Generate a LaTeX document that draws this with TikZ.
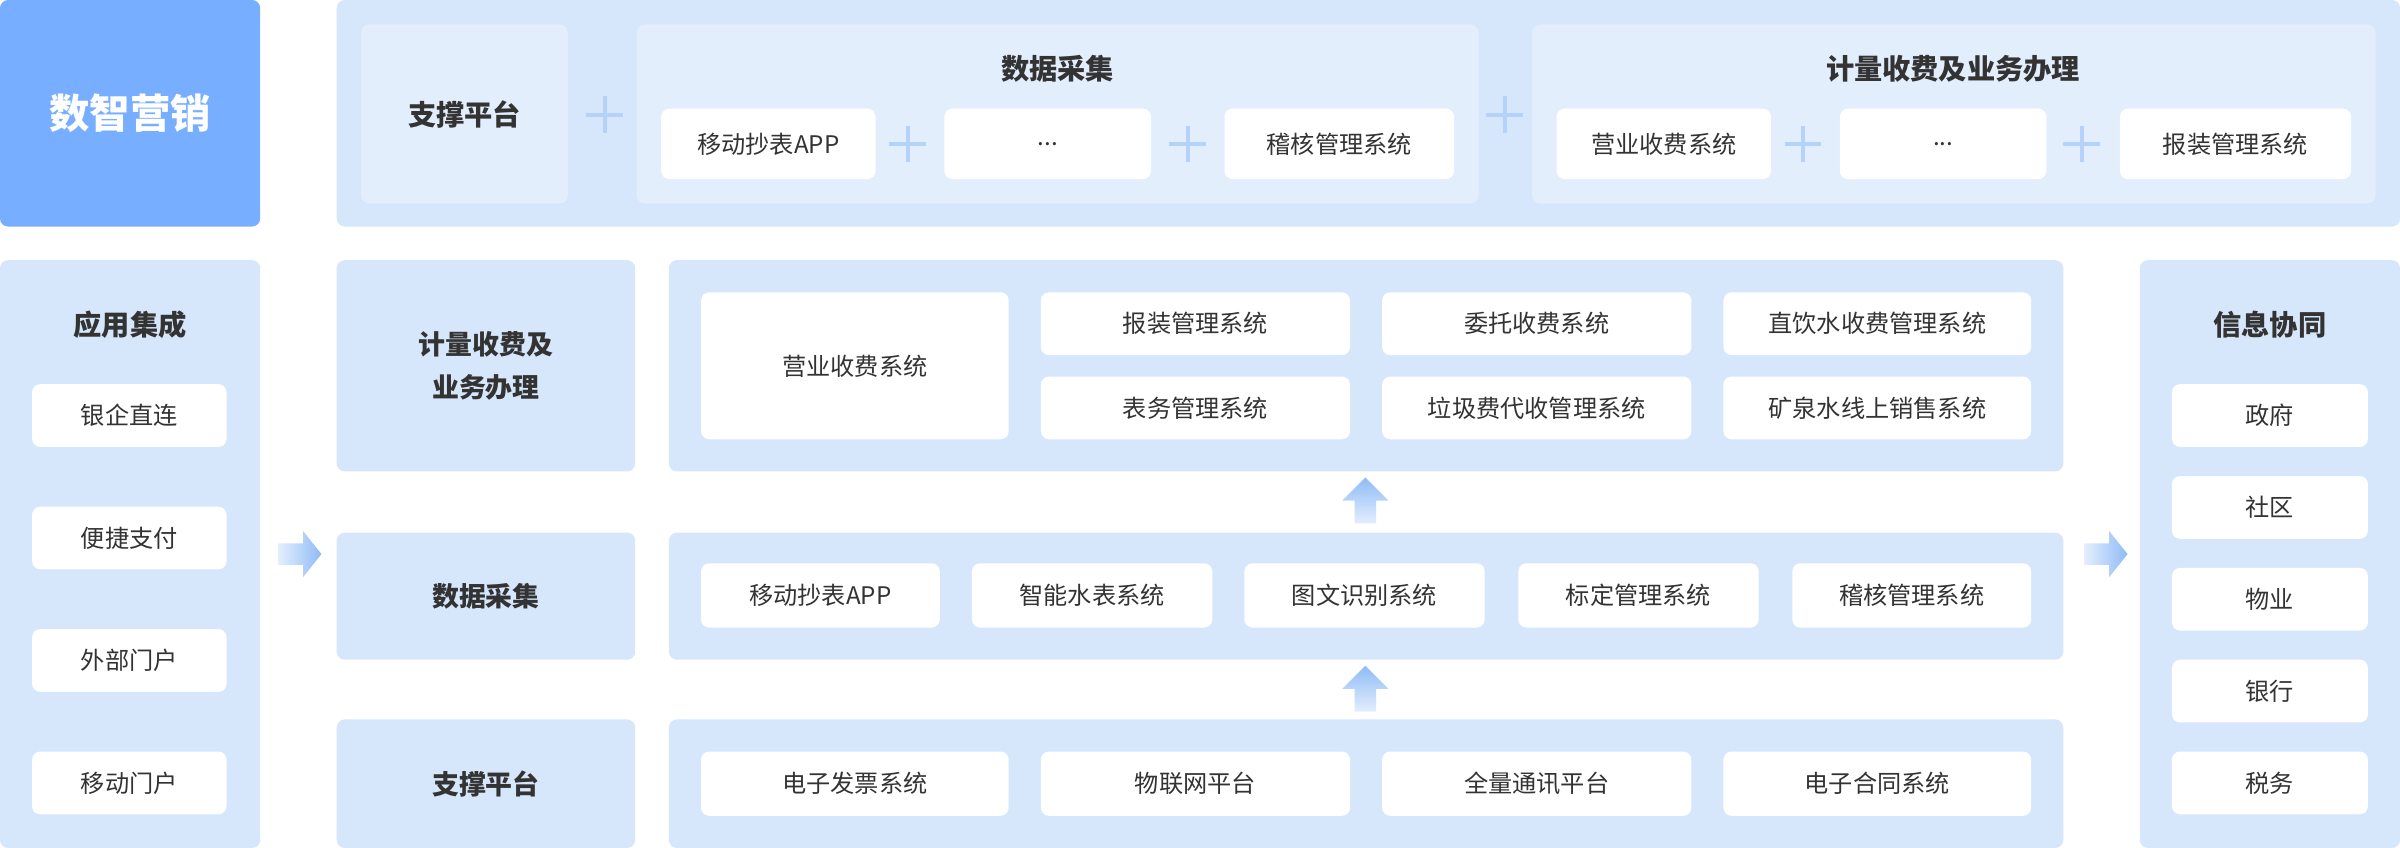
\documentclass[tikz,border=0pt]{standalone}
\usepackage{fontspec}
\setmainfont{Noto Sans CJK SC}
\definecolor{panel}{HTML}{D6E6FB}
\definecolor{inner}{HTML}{E3EEFD}
\definecolor{head}{HTML}{78AEFF}
\definecolor{ink}{HTML}{333333}
\definecolor{plusc}{HTML}{B5D2FA}
\definecolor{arr}{HTML}{8FBBF6}
\tikzset{
  base/.style={inner sep=0pt, outer sep=0pt, rounded corners=3pt, align=center, text=ink, font=\fontsize{9}{12}\selectfont},
  pnl/.style={base, fill=panel},
  inn/.style={base, fill=inner},
  wbox/.style={base, fill=white},
  ttl/.style={text=ink, font=\fontsize{10.5}{14}\selectfont\bfseries},
  pl/.style={plusc, line width=0.05cm},
  flow/.style={left color=arr!25, right color=arr, draw=none},
  upflow/.style={bottom color=arr!25, top color=arr, draw=none}
}
% box from corner (x1,y1) to (x2,y2), y downwards
\newcommand{\bx}[7]{\node[#1, minimum width={(#5-#3)*0.02cm}, minimum height={(#6-#4)*0.02cm}] (#2) at ({(#3+#5)/2},{(#4+#6)/2}) {#7};}
\begin{document}
\begin{tikzpicture}[x=0.02cm, y=-0.02cm]
\useasboundingbox (0,0) rectangle (1568,554);
% top band
\bx{base, fill=head, text=white, font=\fontsize{15}{18}\selectfont\bfseries}{brand}{0}{0}{170}{148}{数智营销}
\bx{pnl}{top}{220}{0}{1568}{148}{}
\bx{inn, font=\fontsize{10.5}{14}\selectfont\bfseries}{tzc}{236}{16}{371}{133}{支撑平台}
\bx{inn}{tsj}{416}{16}{966}{133}{}
\node[ttl] (tsjt) at (691,45) {数据采集};
\bx{wbox}{ta1}{432}{71}{572}{117}{移动抄表APP}
\bx{wbox}{ta2}{617}{71}{752}{117}{...}
\bx{wbox}{ta3}{800}{71}{950}{117}{稽核管理系统}
\bx{inn}{tjl}{1001}{16}{1552}{133}{}
\node[ttl] (tjlt) at (1276,45) {计量收费及业务办理};
\bx{wbox}{tb1}{1017}{71}{1157}{117}{营业收费系统}
\bx{wbox}{tb2}{1202}{71}{1337}{117}{...}
\bx{wbox}{tb3}{1385}{71}{1536}{117}{报装管理系统}
\foreach \x/\y in {395/75, 593/94, 776/94, 983/75, 1178/94, 1360/94}
  \draw[pl] (\x,\y-12) -- (\x,\y+12) (\x-12,\y) -- (\x+12,\y);
% left column
\bx{pnl}{app}{0}{170}{170}{554}{}
\node[ttl] (appt) at (85,212) {应用集成};
\bx{wbox}{l1}{21}{251}{148}{292}{银企直连}
\bx{wbox}{l2}{21}{331}{148}{372}{便捷支付}
\bx{wbox}{l3}{21}{411}{148}{452}{外部门户}
\bx{wbox}{l4}{21}{491}{148}{532}{移动门户}
% right column
\bx{pnl}{info}{1398}{170}{1568}{554}{}
\node[ttl] (infot) at (1483,212) {信息协同};
\bx{wbox}{r1}{1419}{251}{1547}{292}{政府}
\bx{wbox}{r2}{1419}{311}{1547}{352}{社区}
\bx{wbox}{r3}{1419}{371}{1547}{412}{物业}
\bx{wbox}{r4}{1419}{431}{1547}{472}{银行}
\bx{wbox}{r5}{1419}{491}{1547}{532}{税务}
% row labels
\bx{pnl, font=\fontsize{10}{16}\selectfont\bfseries}{rjl}{220}{170}{415}{308}{计量收费及\\业务办理}
\bx{pnl, font=\fontsize{10}{14}\selectfont\bfseries}{rsj}{220}{348}{415}{431}{数据采集}
\bx{pnl, font=\fontsize{10}{14}\selectfont\bfseries}{rzc}{220}{470}{415}{554}{支撑平台}
% row 1
\bx{pnl}{g1}{437}{170}{1348}{308}{}
\bx{wbox}{g1a}{458}{191}{659}{287}{营业收费系统}
\bx{wbox}{g1b}{680}{191}{882}{232}{报装管理系统}
\bx{wbox}{g1c}{903}{191}{1105}{232}{委托收费系统}
\bx{wbox}{g1d}{1126}{191}{1327}{232}{直饮水收费管理系统}
\bx{wbox}{g1e}{680}{246}{882}{287}{表务管理系统}
\bx{wbox}{g1f}{903}{246}{1105}{287}{垃圾费代收管理系统}
\bx{wbox}{g1g}{1126}{246}{1327}{287}{矿泉水线上销售系统}
% row 2
\bx{pnl}{g2}{437}{348}{1348}{431}{}
\bx{wbox}{g2a}{458}{368}{614}{410}{移动抄表APP}
\bx{wbox}{g2b}{635}{368}{792}{410}{智能水表系统}
\bx{wbox}{g2c}{813}{368}{970}{410}{图文识别系统}
\bx{wbox}{g2d}{992}{368}{1149}{410}{标定管理系统}
\bx{wbox}{g2e}{1171}{368}{1327}{410}{稽核管理系统}
% row 3
\bx{pnl}{g3}{437}{470}{1348}{554}{}
\bx{wbox}{g3a}{458}{491}{659}{533}{电子发票系统}
\bx{wbox}{g3b}{680}{491}{882}{533}{物联网平台}
\bx{wbox}{g3c}{903}{491}{1105}{533}{全量通讯平台}
\bx{wbox}{g3d}{1126}{491}{1327}{533}{电子合同系统}
% flow arrows
\foreach \x in {182, 1362}
  \shade[flow] (\x,355) -- (\x+16,355) -- (\x+16,347) -- (\x+28,362) -- (\x+16,377) -- (\x+16,369) -- (\x,369) -- cycle;
\foreach \y in {312, 435}
  \shade[upflow] (885,\y+30) -- (885,\y+15) -- (877,\y+15) -- (892,\y) -- (907,\y+15) -- (899,\y+15) -- (899,\y+30) -- cycle;
\end{tikzpicture}
\end{document}
